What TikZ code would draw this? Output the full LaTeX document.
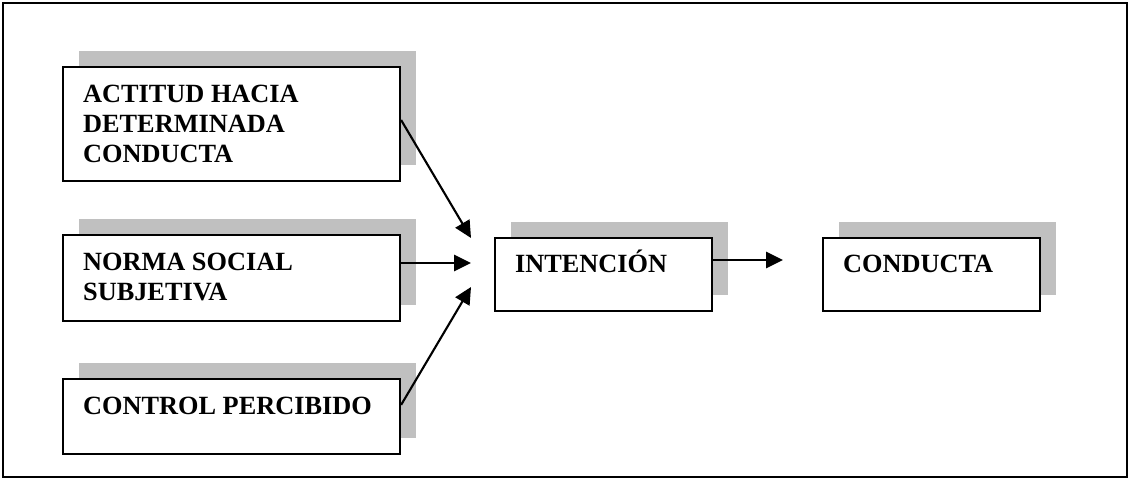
\documentclass[tikz,border=0pt]{standalone}
\usepackage{fontspec}
\setmainfont{Liberation Serif}
\usetikzlibrary{arrows.meta,shadows}
\definecolor{shade}{RGB}{192,192,192}

\begin{document}
\begin{tikzpicture}[x=0.025cm, y=-0.025cm,
  box/.style={draw, line width=1.5pt, fill=white, inner sep=0pt,
    drop shadow={shadow xshift=0.4cm, shadow yshift=0.4cm, fill=shade, opacity=1}},
  txt/.style={anchor=north west, inner sep=0pt, align=left,
    font=\bfseries\fontsize{18.7}{21.3}\selectfont},
  arr/.style={line width=1.5pt, -{Triangle[length=12pt, width=11.5pt]}},
]
\useasboundingbox (0,0) rectangle (1130,479);

%frame
\draw[line width=1.2pt] (3,3) rectangle (1127,477);

%factors
\node[box, minimum width=8.425cm, minimum height=2.85cm] (actitud) at (231.5,124) {};
\node[txt] (actitud text) at ([shift={(21,18.5)}]actitud.north west)
  {ACTITUD HACIA\\DETERMINADA\\CONDUCTA};

\node[box, minimum width=8.425cm, minimum height=2.15cm] (norma) at (231.5,278) {};
\node[txt] (norma text) at ([shift={(21,18.5)}]norma.north west)
  {NORMA SOCIAL\\SUBJETIVA};

\node[box, minimum width=8.425cm, minimum height=1.875cm] (control) at (231.5,416.5) {};
\node[txt] (control text) at ([shift={(21,18.5)}]control.north west)
  {CONTROL PERCIBIDO};

%intention and behaviour
\node[box, minimum width=5.425cm, minimum height=1.825cm] (intencion) at (603.5,274.5) {};
\node[txt, anchor=base west] (intencion text)
  at ([shift={(21,36)}]intencion.north west) {INTENCIÓN};

\node[box, minimum width=5.425cm, minimum height=1.825cm] (conducta) at (931.5,274.5) {};
\node[txt, anchor=base west] (conducta text)
  at ([shift={(21,36)}]conducta.north west) {CONDUCTA};

%arrows
\coordinate (in1) at (471,238);
\coordinate (in2) at (471,263);
\coordinate (in3) at (471,287);
\coordinate (out) at (783,260);

\draw[arr] ([yshift=0.1cm]actitud.east) -- (in1);
\draw[arr] (norma.east |- in2) -- (in2);
\draw[arr] ([yshift=0.29cm]control.east) -- (in3);
\draw[arr] (intencion.east |- out) -- (out);

\end{tikzpicture}
\end{document}
